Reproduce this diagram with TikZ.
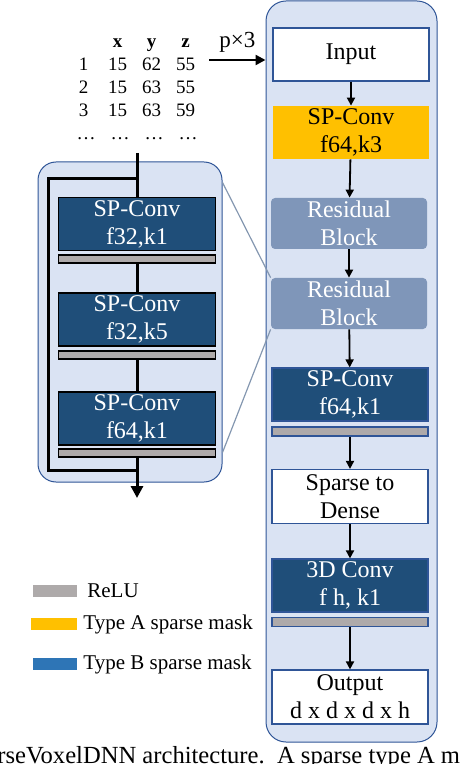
\documentclass[tikz,border=0pt]{standalone}
\usepackage{fontspec}
\setmainfont{Liberation Serif}
\usetikzlibrary{matrix}
\usetikzlibrary{arrows.meta}

\definecolor{convblue}{RGB}{31,78,121}
\definecolor{edgeblue}{RGB}{47,85,151}
\definecolor{panelblue}{RGB}{218,227,243}
\definecolor{resblue}{RGB}{127,150,185}
\definecolor{maskyellow}{RGB}{255,192,0}
\definecolor{relugray}{RGB}{174,170,170}
\definecolor{maskblue}{RGB}{46,117,182}
\definecolor{zoomgray}{RGB}{132,151,176}

\begin{document}
\begin{tikzpicture}[x=0.5pt,y=-0.5pt,
    every node/.style={font=\fontsize{12}{14}\selectfont,inner sep=0pt,align=center},
    box/.style={minimum width=78pt,minimum height=26.5pt},
    plain/.style={box,draw=edgeblue,fill=white,line width=0.6pt},
    spconv/.style={box,draw=edgeblue,fill=convblue,text=white,line width=0.6pt},
    typea/.style={box,fill=maskyellow},
    resblock/.style={box,fill=resblue,text=white,rounded corners=2pt,minimum height=25.5pt},
    relu/.style={minimum width=78pt,minimum height=4.5pt,draw=edgeblue,fill=relugray,line width=0.6pt},
    lconv/.style={minimum width=78.5pt,minimum height=26.5pt,draw=black,fill=convblue,text=white,line width=0.8pt},
    lrelu/.style={minimum width=78.5pt,minimum height=4pt,draw=black,fill=relugray,line width=0.8pt},
    flow/.style={-{Triangle[length=4pt,width=4pt]},line width=0.9pt},
    skip/.style={line width=1.5pt},
    zoomline/.style={draw=zoomgray,line width=0.6pt},
    panel/.style={draw=edgeblue,fill=panelblue,line width=0.5pt,rounded corners=10pt},
    legend/.style={anchor=west,font=\fontsize{10.5}{12}\selectfont}]
    \useasboundingbox (0,0) rectangle (462,764);
    \clip (0,0) rectangle (462,764);

    % panels
    \node[panel,minimum width=85.5pt,minimum height=370.5pt] (net) at (351.5,371.5) {};
    \node[panel,rounded corners=9pt,minimum width=92pt,minimum height=160pt] (res) at (130,322) {};

    % point table
    \matrix (tbl) [matrix of nodes,nodes={minimum width=17pt,minimum height=11.5pt,text height=6.5pt,text depth=0pt,font=\fontsize{9.5}{11}\selectfont}] at (137,87) {
       & \textbf{x} & \textbf{y} & \textbf{z} \\
      1 & 15 & 62 & 55 \\
      2 & 15 & 63 & 55 \\
      3 & 15 & 63 & 59 \\
      \dots & \dots & \dots & \dots \\
    };
    \draw[line width=1.2pt,-{Triangle[length=5pt,width=5pt]}] ([xshift=2pt,yshift=2pt]tbl-2-4.east) -- ([yshift=2pt]net.west |- tbl-2-4)
      node[midway,above=3pt,font=\fontsize{11.5}{13}\selectfont] (px) {p×3};

    % main column
    \node[plain] (input) at (351,54.5) {Input};
    \node[typea] (spa) at (351,132.5) {SP-Conv\\f64,k3};
    \node[resblock] (res1) at (349,223.5) {Residual\\Block};
    \node[resblock] (res2) at (349,303.5) {Residual\\Block};
    \node[spconv] (spb) at (350,394.5) {SP-Conv\\f64,k1};
    \node[relu] (relua) at (350,431.5) {};
    \node[plain,minimum height=27pt] (dense) at (350,496.5) {Sparse to\\Dense};
    \node[spconv] (conv3d) at (350,585.5) {3D Conv\\f h, k1};
    \node[relu] (relub) at (350,622) {};
    \node[plain,minimum height=27pt] (output) at (350,697) {Output\\d x d x d x h};

    \draw[flow] (input) -- (spa);
    \draw[flow] (spa) -- (res1);
    \draw[flow] (res1) -- (res2);
    \draw[flow] (res2) -- (spb);
    \draw[flow] (relua) -- (dense);
    \draw[flow] (dense) -- (conv3d);
    \draw[flow] (relub) -- (output);

    % zoom of the residual block
    \draw[zoomline] ([yshift=-10.5pt]res.north east) -- (res2.north west);
    \draw[zoomline] ([yshift=15pt]res.south east) -- (res2.south west);

    \node[lconv] (l1) at (137,224) {SP-Conv\\f32,k1};
    \node[lrelu] (lr1) at (137,259) {};
    \node[lconv] (l2) at (137,319.5) {SP-Conv\\f32,k5};
    \node[lrelu] (lr2) at (137,355) {};
    \node[lconv] (l3) at (137,418.5) {SP-Conv\\f64,k1};
    \node[lrelu] (lr3) at (137,453) {};

    \coordinate (in) at (137,153);
    \coordinate (split) at (137,179);
    \coordinate (skipa) at (48,179);
    \coordinate (skipb) at (48,470);
    \coordinate (merge) at (137,470);
    \coordinate (out) at (137,498);
    \draw[skip] (in) -- (l1.north);
    \draw[skip] (split) -- (skipa) -- (skipb) -- (merge);
    \draw[skip] (lr1.south) -- (l2.north);
    \draw[skip] (lr2.south) -- (l3.north);
    \draw[skip,-{Triangle[length=6pt,width=6pt]}] (lr3.south) -- (out);

    % legend
    \node[fill=relugray,minimum width=22pt,minimum height=6pt] (keyrelu) at (55,591) {};
    \node[legend] (txtrelu) at (87,591) {ReLU};
    \node[fill=maskyellow,minimum width=23pt,minimum height=6pt] (keya) at (54,624) {};
    \node[legend] (txta) at (83,624) {Type A sparse mask};
    \node[fill=maskblue,minimum width=22pt,minimum height=6pt] (keyb) at (55,664) {};
    \node[legend] (txtb) at (83,664) {Type B sparse mask};

    % caption (cut)
    \node[anchor=base west,font=\fontsize{12.3}{14}\selectfont] (caption) at (-3,763) {rseVoxelDNN architecture.\ \ A sparse type A m};
\end{tikzpicture}
\end{document}
